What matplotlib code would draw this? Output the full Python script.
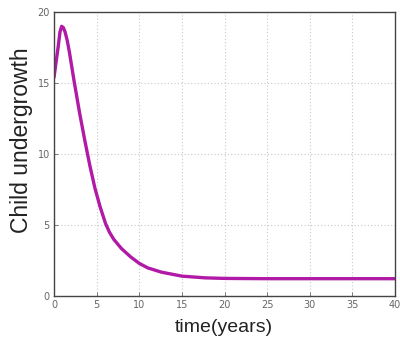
import matplotlib
matplotlib.use("Agg")
import matplotlib.pyplot as plt

# values
time_years = [0, 0.25, 0.5, 0.7, 0.9, 1.1, 1.3, 1.55, 1.8, 2.34, 3.0, 3.6,
              4.2, 4.8, 5.4, 6.05, 6.5, 7.0, 7.9, 9.0, 10, 11, 12.6, 15,
              17.7, 20, 25, 30, 35, 40]
child_undergrowth = [15.4, 16.5, 17.6, 18.6, 19.0, 18.9, 18.6, 18.0, 17.2,
                     15.2, 12.9, 11.0, 9.2, 7.6, 6.3, 5.1, 4.5, 4.0, 3.35,
                     2.75, 2.3, 1.98, 1.68, 1.4, 1.28, 1.24, 1.22, 1.22, 1.22,
                     1.22]
x_ticks = [0, 5, 10, 15, 20, 25, 30, 35, 40]
y_ticks = [0, 5, 10, 15, 20]

fig = plt.figure(figsize=(4.0, 3.45), dpi=100)
ax = fig.add_axes([0.135, 0.142, 0.8525, 0.823])

ax.plot(time_years, child_undergrowth, color="#b01aa6", lw=2.4,
        solid_joinstyle="round", solid_capstyle="round")

ax.set_xlim(0, 40)
ax.set_ylim(0, 20)
ax.set_xticks(x_ticks)
ax.set_yticks(y_ticks)
ax.grid(True, linestyle=(0, (1, 2)), color="#c8c8c8", lw=0.8)
ax.tick_params(direction="in", length=3, width=0.6, colors="#666666",
               labelsize=7, pad=3)
for s in ax.spines.values():
    s.set_color("#444444")
    s.set_linewidth(1.0)

# axis titles placed like the reference
fig.text(224 / 400, 1 - 327 / 345, "time(years)", fontsize=14,
         family="Liberation Sans", ha="center", va="center", color="#222222")
fig.text(22 / 400, 1 - 140 / 345, "Child undergrowth", fontsize=16.5,
         family="Liberation Sans", rotation=90, ha="center", va="center",
         color="#222222")

fig.savefig("out.png", dpi=100)
